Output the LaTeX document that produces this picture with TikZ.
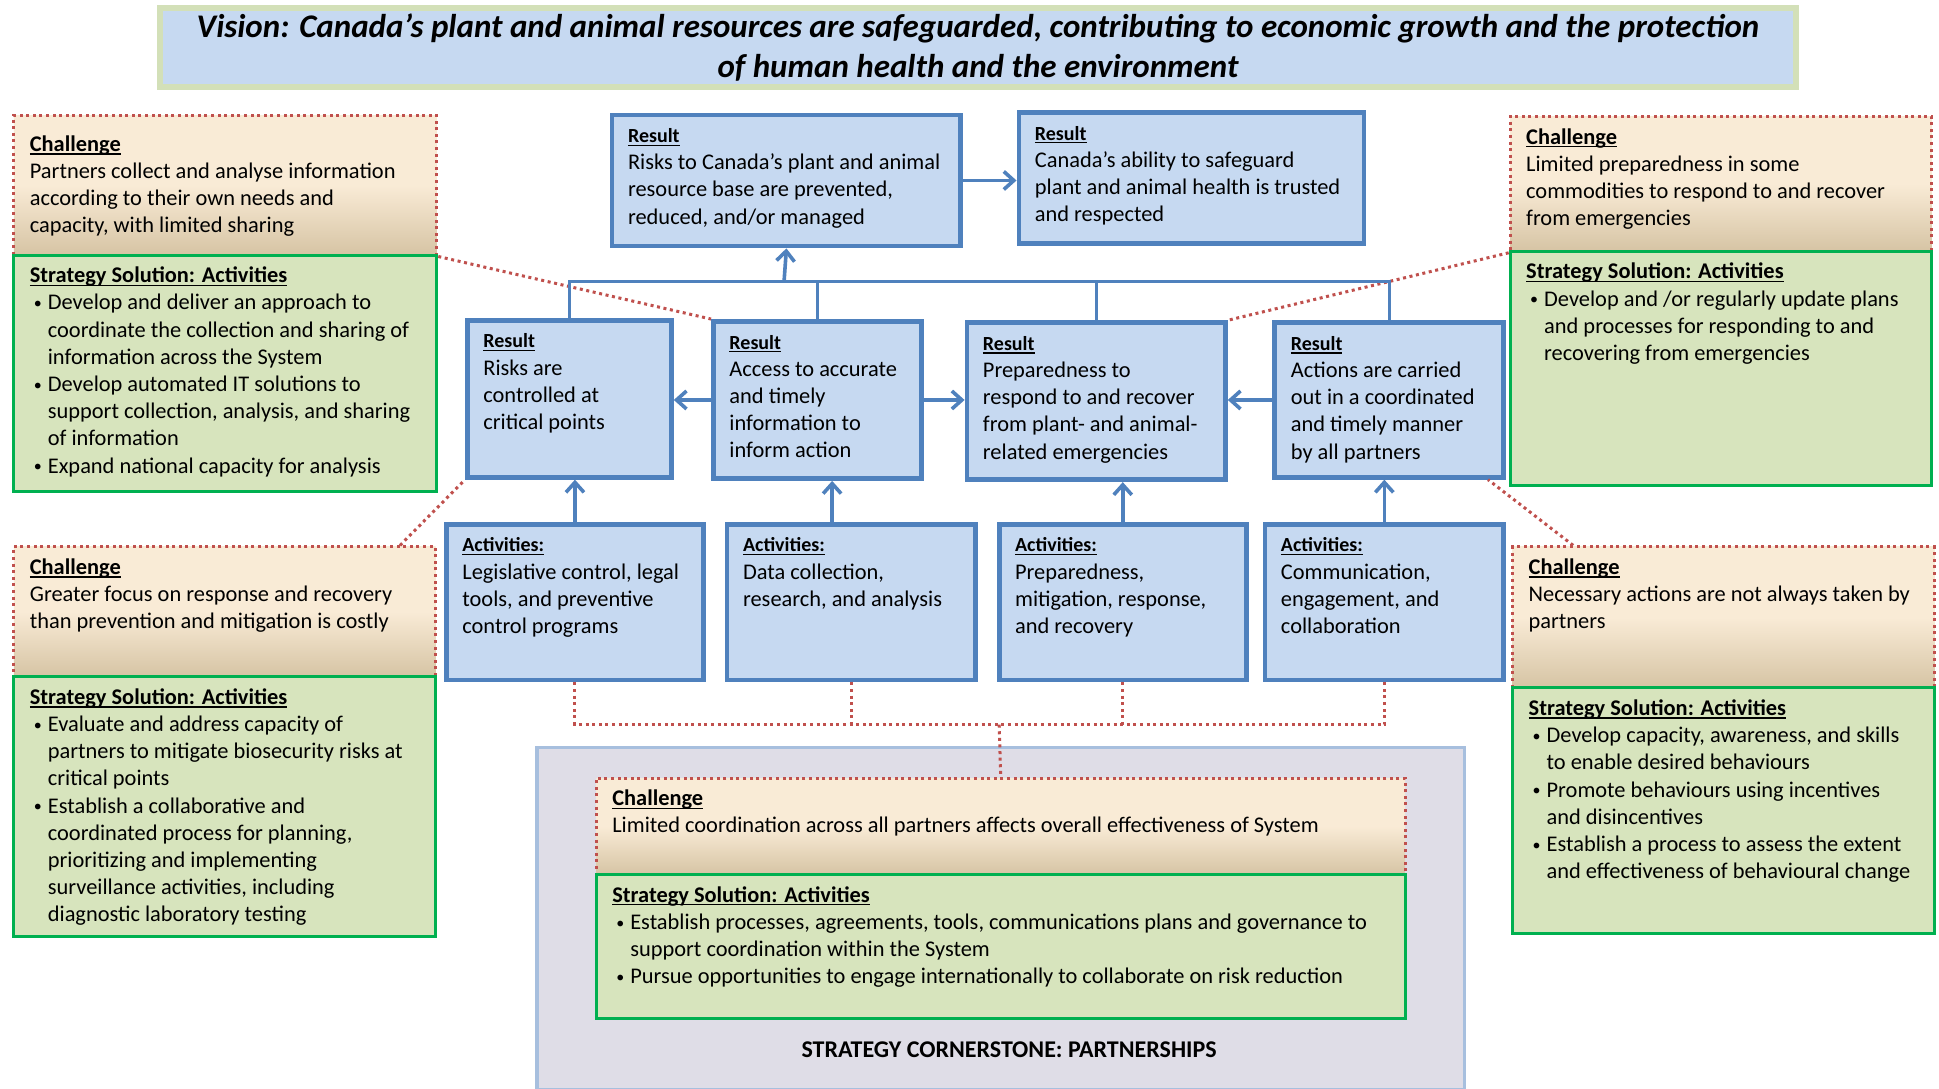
\documentclass[tikz,border=0pt]{standalone}
\usepackage{fontspec}
\setmainfont{Carlito}
\usepackage{xcolor}
\usepackage{tikz}
\usetikzlibrary{arrows.meta}

\definecolor{resline}{HTML}{4F81BD}
\definecolor{resfill}{HTML}{C6D9F1}
\definecolor{chline}{HTML}{C0504D}
\definecolor{chtop}{HTML}{F9EBD6}
\definecolor{chbot}{HTML}{D6C4A4}
\definecolor{solline}{HTML}{00B050}
\definecolor{solfill}{HTML}{D7E4BD}
\definecolor{visline}{HTML}{D3E0B8}
\definecolor{basefill}{HTML}{DFDDE7}
\definecolor{cornerline}{HTML}{A7BFDE}

% one drawing unit
\newdimen\unitpx \unitpx=0.6183pt
\newsavebox\hdbox
\newcommand{\bodyfont}{\fontsize{11.2}{13.6}\selectfont}
% underlined headings
\newcommand{\hd}[1]{\leavevmode\strut\sbox\hdbox{\bfseries #1}\rlap{\rule[-1.6pt]{\wd\hdbox}{0.6pt}}\usebox\hdbox}
\newcommand{\reshd}[1]{\hd{\fontsize{10}{13.6}\selectfont #1}}
% bullet item
\newcommand{\bl}[1]{\par\hangindent=9pt\hangafter=1\leavevmode\makebox[9pt][l]{\hspace{2pt}\raisebox{0.6pt}{\fontsize{8}{8}\selectfont\textbullet}}#1}
% box contents: [top gap]{width}{height}{text}
\newcommand{\inbox}[4][4.3pt]{\parbox[c][#3\unitpx][t]{#2\unitpx}{\raggedright\leftskip=8pt\rightskip=-6pt plus 1fil\relax\vspace*{#1}#4}}

\begin{document}
\begin{tikzpicture}[x=0.6183pt, y=-0.6183pt,
    result/.style={draw=resline, fill=resfill, line width=2.4pt, inner sep=0pt, anchor=north west, font=\bodyfont},
    challenge/.style={draw=chline, line width=1.5pt, dash pattern=on 1.5pt off 1.8pt, top color=chtop, bottom color=chbot, middle color=chtop, inner sep=0pt, anchor=north west, font=\bodyfont},
    solution/.style={draw=solline, fill=solfill, line width=1.5pt, inner sep=0pt, anchor=north west, font=\bodyfont},
    flow/.style={draw=resline, line width=1.8pt, -{Straight Barb[length=5pt, width=9pt]}},
    bus/.style={draw=resline, line width=1.5pt},
    link/.style={draw=chline, line width=1.5pt, dash pattern=on 1.5pt off 1.8pt}]

\fill[white] (0,0) rectangle (1568,880);
\useasboundingbox (0,0) rectangle (1568,880);

% vision banner
\node[draw=visline, fill=resfill, line width=3pt, inner sep=0pt, anchor=north west, align=center,
      minimum width=818pt, minimum height=39.6pt, font=\fontsize{16.5}{20}\selectfont\bfseries\itshape] (vision) at (127,4)
  {Vision: Canada’s plant and animal resources are safeguarded, contributing to economic growth and the protection\\of human health and the environment};

% cornerstone
\node[draw=cornerline, fill=basefill, line width=1.8pt, inner sep=0pt, anchor=north west,
      minimum width=463.7pt, minimum height=171.3pt] (base) at (433,603) {};
\node[font=\fontsize{12}{14}\selectfont\bfseries] (basetext) at (816,849) {STRATEGY CORNERSTONE: PARTNERSHIPS};

% challenges and solutions
\node[challenge] (lc1ch) at (10,92) {\inbox[8.5pt]{342}{113}{\hd{Challenge}\\Partners collect and analyse information\\according to their own needs and\\capacity, with limited sharing}};
\node[solution] (lc1st) at (10,205) {\inbox{342}{191}{\hd{Strategy Solution: Activities}
  \bl{Develop and deliver an approach to\newline coordinate the collection and sharing of\newline information across the System}
  \bl{Develop automated IT solutions to\newline support collection, analysis, and sharing\newline of information}
  \bl{Expand national capacity for analysis}}};

\node[challenge] (lc2ch) at (10,441) {\inbox{341}{105}{\hd{Challenge}\\Greater focus on response and recovery\\than prevention and mitigation is costly}};
\node[solution] (lc2st) at (10,546) {\inbox{341}{210}{\hd{Strategy Solution: Activities}
  \bl{Evaluate and address capacity of\newline partners to mitigate biosecurity risks at\newline critical points}
  \bl{Establish a collaborative and\newline coordinated process for planning,\newline prioritizing and implementing\newline surveillance activities, including\newline diagnostic laboratory testing}}};

\node[challenge] (rc1ch) at (1220,93) {\inbox{341}{109}{\hd{Challenge}\\Limited preparedness in some\\commodities to respond to and recover\\from emergencies}};
\node[solution] (rc1st) at (1220,202) {\inbox{341}{189}{\hd{Strategy Solution: Activities}
  \bl{Develop and /or regularly update plans\newline and processes for responding to and\newline recovering from emergencies}}};

\node[challenge] (rc2ch) at (1222,441) {\inbox{341}{114}{\hd{Challenge}\\Necessary actions are not always taken by\\partners}};
\node[solution] (rc2st) at (1222,555) {\inbox{341}{199}{\hd{Strategy Solution: Activities}
  \bl{Develop capacity, awareness, and skills\newline to enable desired behaviours}
  \bl{Promote behaviours using incentives\newline and disincentives}
  \bl{Establish a process to assess the extent\newline and effectiveness of behavioural change}}};

\node[challenge] (bcch) at (481,628) {\inbox{654}{78}{\hd{Challenge}\\Limited coordination across all partners affects overall effectiveness of System}};
\node[solution] (bcst) at (481,706) {\inbox{654}{116}{\hd{Strategy Solution: Activities}
  \bl{Establish processes, agreements, tools, communications plans and governance to\newline support coordination within the System}
  \bl{Pursue opportunities to engage internationally to collaborate on risk reduction}}};

% results
\node[result] (r1) at (493,91) {\inbox{282}{106}{\reshd{Result}\\Risks to Canada’s plant and animal\\resource base are prevented,\\reduced, and/or managed}};
\node[result] (r2) at (822,89) {\inbox{279}{106}{\reshd{Result}\\Canada’s ability to safeguard\\plant and animal health is trusted\\and respected}};

\node[result] (m1) at (376,257) {\inbox{165}{127}{\reshd{Result}\\Risks are\\controlled at\\critical points}};
\node[result] (m2) at (575,258) {\inbox{168}{127}{\reshd{Result}\\Access to accurate\\and timely\\information to\\inform action}};
\node[result] (m3) at (780,259) {\inbox{209}{127}{\reshd{Result}\\Preparedness to\\respond to and recover\\from plant- and animal-\\related emergencies}};
\node[result] (m4) at (1029,259) {\inbox{185}{125}{\reshd{Result}\\Actions are carried\\out in a coordinated\\and timely manner\\by all partners}};

% activities
\node[result] (a1) at (359,422) {\inbox{208}{126}{\reshd{Activities:}\\Legislative control, legal\\tools, and preventive\\control programs}};
\node[result] (a2) at (586,422) {\inbox{201}{126}{\reshd{Activities:}\\Data collection,\\research, and analysis}};
\node[result] (a3) at (806,422) {\inbox{200}{126}{\reshd{Activities:}\\Preparedness,\\mitigation, response,\\and recovery}};
\node[result] (a4) at (1021,422) {\inbox{193}{126}{\reshd{Activities:}\\Communication,\\engagement, and\\collaboration}};

% links to the challenges
\coordinate (join) at (808,586);
\draw[link] (a1.south) |- (join) -| (a4.south);
\draw[link] (a2.south) -- (a2.south |- join);
\draw[link] (a3.south) -- (a3.south |- join);
\draw[link] (join) -- (bcch.north);
\draw[link] (lc1ch.south east) -- (m2.north west);
\draw[link] ([xshift=-18.5pt]lc2ch.north east) -- (m1.south west);
\draw[link] (rc1ch.south west) -- (m3.north east);
\draw[link] ([xshift=31pt]rc2ch.north west) -- ([xshift=-9pt]m4.south east);

% result flows
\coordinate (hub) at (634,228);
\draw[bus] (m1.north) |- (hub) -| (m4.north);
\draw[bus] (m2.north) -- (m2.north |- hub);
\draw[bus] (m3.north) -- (m3.north |- hub);
\draw[flow] (hub) -- (r1.south);
\draw[flow] (r1.east) -- (r1.east -| r2.west);
\draw[flow] (m2.west) -- (m2.west -| m1.east);
\draw[flow] (m2.east) -- (m2.east -| m3.west);
\draw[flow] (m4.west) -- (m4.west -| m3.east);

\coordinate (a2up) at ([xshift=-9.6pt]a2.north);
\draw[flow] (a1.north) -- (a1.north |- m1.south);
\draw[flow] (a2up) -- (a2up |- m2.south);
\draw[flow] (a3.north) -- (a3.north |- m3.south);
\draw[flow] (a4.north) -- (a4.north |- m4.south);
\end{tikzpicture}
\end{document}
